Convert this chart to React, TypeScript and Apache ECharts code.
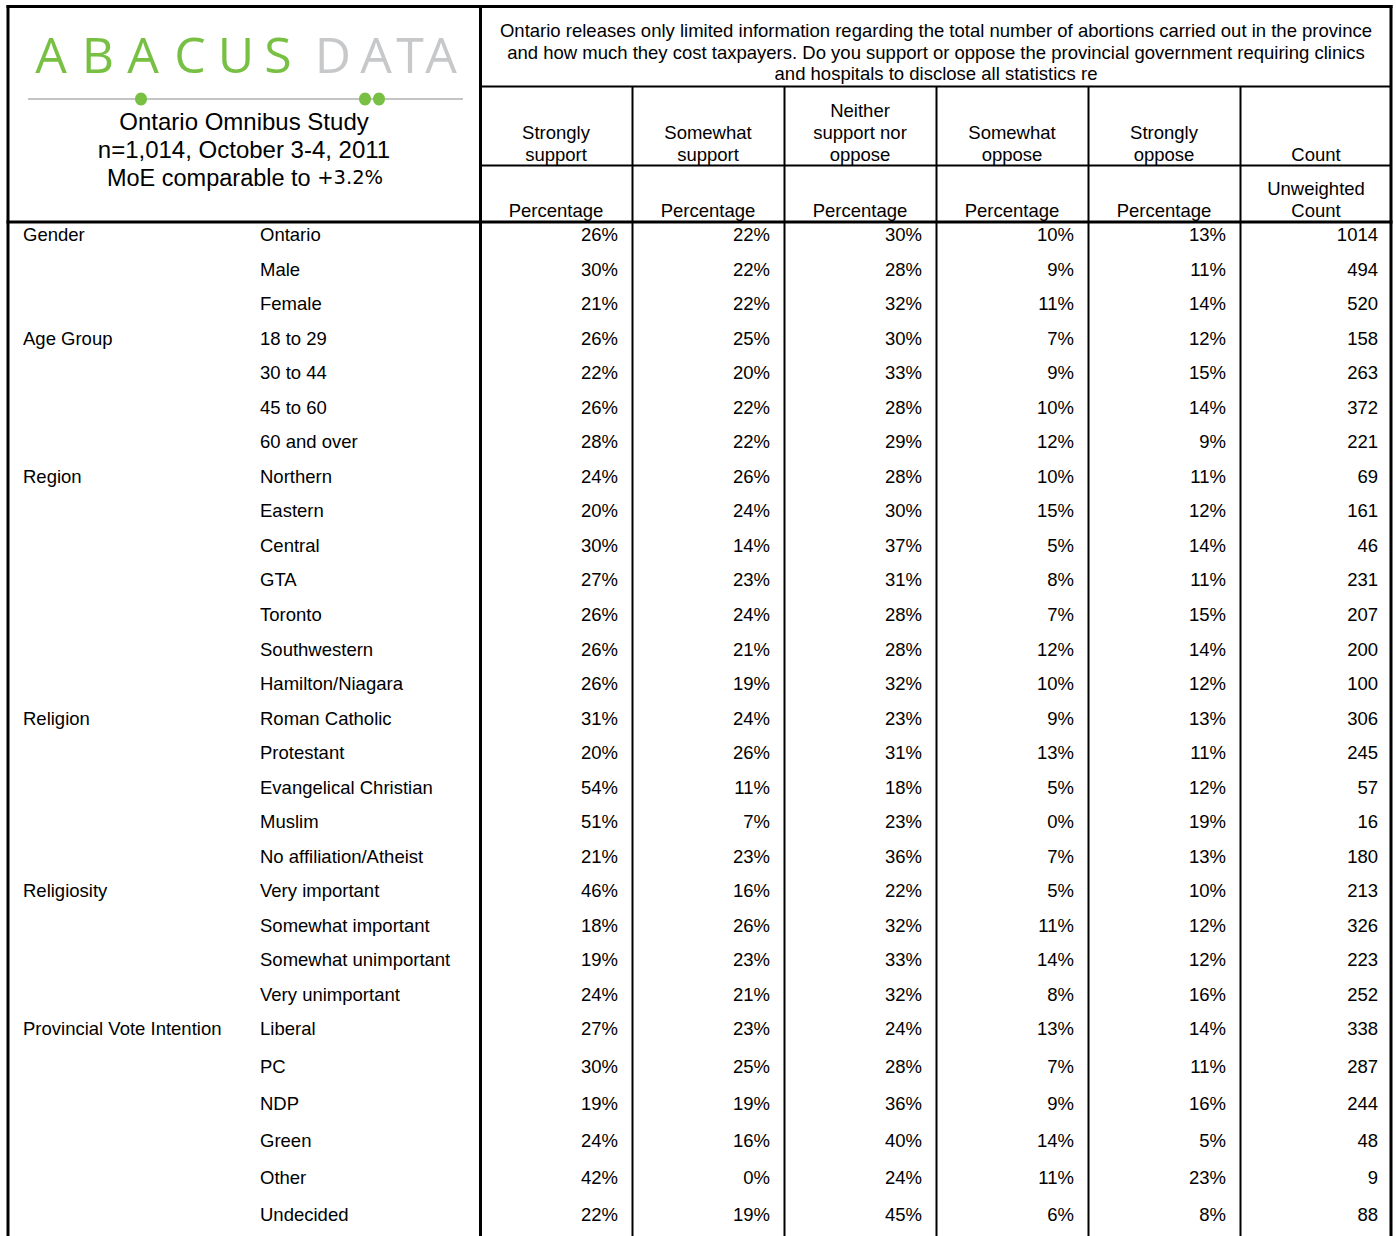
import React, { useEffect, useRef } from 'react';
import * as echarts from 'echarts';

const FONT = '"Liberation Sans", Arial, Helvetica, sans-serif';
const FS = 18.5;

const questionLines = [
  'Ontario releases only limited information regarding the total number of abortions carried out in the province',
  'and how much they cost taxpayers. Do you support or oppose the provincial government requiring clinics',
  'and hospitals to disclose all statistics re',
];
const columnHeaders = ['Strongly\nsupport', 'Somewhat\nsupport', 'Neither\nsupport nor\noppose', 'Somewhat\noppose', 'Strongly\noppose', 'Count'];
const subHeaders = ['Percentage', 'Percentage', 'Percentage', 'Percentage', 'Percentage', 'Unweighted\nCount'];
const titleLines = ['Ontario Omnibus Study', 'n=1,014, October 3-4, 2011'];

const groupNames = ['Gender', 'Age Group', 'Region', 'Religion', 'Religiosity', 'Provincial Vote Intention'];
const groupStarts = [0, 3, 7, 14, 19, 23];

const rows = [
  'Ontario', 'Male', 'Female',
  '18 to 29', '30 to 44', '45 to 60', '60 and over',
  'Northern', 'Eastern', 'Central', 'GTA', 'Toronto', 'Southwestern', 'Hamilton/Niagara',
  'Roman Catholic', 'Protestant', 'Evangelical Christian', 'Muslim', 'No affiliation/Atheist',
  'Very important', 'Somewhat important', 'Somewhat unimportant', 'Very unimportant',
  'Liberal', 'PC', 'NDP', 'Green', 'Other', 'Undecided',
];
const stronglySupport = [26, 30, 21, 26, 22, 26, 28, 24, 20, 30, 27, 26, 26, 26, 31, 20, 54, 51, 21, 46, 18, 19, 24, 27, 30, 19, 24, 42, 22];
const somewhatSupport = [22, 22, 22, 25, 20, 22, 22, 26, 24, 14, 23, 24, 21, 19, 24, 26, 11, 7, 23, 16, 26, 23, 21, 23, 25, 19, 16, 0, 19];
const neither = [30, 28, 32, 30, 33, 28, 29, 28, 30, 37, 31, 28, 28, 32, 23, 31, 18, 23, 36, 22, 32, 33, 32, 24, 28, 36, 40, 24, 45];
const somewhatOppose = [10, 9, 11, 7, 9, 10, 12, 10, 15, 5, 8, 7, 12, 10, 9, 13, 5, 0, 7, 5, 11, 14, 8, 13, 7, 9, 14, 11, 6];
const stronglyOppose = [13, 11, 14, 12, 15, 14, 9, 11, 12, 14, 11, 15, 14, 12, 13, 11, 12, 19, 13, 10, 12, 12, 16, 14, 11, 16, 5, 23, 8];
const counts = [1014, 494, 520, 158, 263, 372, 221, 69, 161, 46, 231, 207, 200, 100, 306, 245, 57, 16, 180, 213, 326, 223, 252, 338, 287, 244, 48, 9, 88];

const columns = [stronglySupport, somewhatSupport, neither, somewhatOppose, stronglyOppose, counts];
const colKeys = ['ss', 'sws', 'n', 'swo', 'so', 'cnt'];

const logoLetters = ['A', 'B', 'A', 'C', 'U', 'S', 'D', 'A', 'T', 'A'];
const logoX = [51, 98, 143, 190, 236, 278, 333, 376, 410, 441];

// layout
const TABLE_L = 480;
const COL_W = 152;
const SPLIT = 23;
const seg = [
  { start: 0, end: SPLIT, top: 217.5, band: 34.52 },
  { start: SPLIT, end: rows.length, top: 1010.2, band: 37.2 },
];

function buildOption() {
  const groupLabels = rows.map((_, i) => {
    const k = groupStarts.indexOf(i);
    return k >= 0 ? groupNames[k] : '';
  });

  const grids: any[] = [];
  const xAxes: any[] = [];
  const yAxes: any[] = [];
  const series: any[] = [];

  seg.forEach((s, gi) => {
    const n = s.end - s.start;
    grids.push({
      left: TABLE_L,
      width: COL_W * 6,
      top: s.top,
      height: s.band * n,
      containLabel: false,
      outerBoundsMode: 'none',
    });
    xAxes.push({ type: 'category', gridIndex: gi, data: colKeys, show: false });
    const labelBase = { interval: 0, align: 'left', fontSize: FS, color: '#000', fontFamily: FONT };
    yAxes.push({
      type: 'category', gridIndex: gi, inverse: true, position: 'left', offset: 0,
      data: rows.slice(s.start, s.end),
      axisLine: { show: false }, axisTick: { show: false }, splitLine: { show: false },
      axisLabel: { ...labelBase, margin: TABLE_L - 260 },
    });
    yAxes.push({
      type: 'category', gridIndex: gi, inverse: true, position: 'left', offset: 0,
      data: groupLabels.slice(s.start, s.end),
      axisLine: { show: false }, axisTick: { show: false }, splitLine: { show: false },
      axisLabel: { ...labelBase, margin: TABLE_L - 23 },
    });
    const data: number[][] = [];
    for (let r = s.start; r < s.end; r++) {
      for (let c = 0; c < columns.length; c++) {
        data.push([c, r - s.start, columns[c][r]]);
      }
    }
    series.push({
      type: 'custom',
      xAxisIndex: gi,
      yAxisIndex: gi * 2,
      data,
      renderItem: (params: any, api: any) => {
        const c = api.value(0);
        const r = api.value(1);
        const v = api.value(2);
        const p = api.coord([c, r]);
        const sz = api.size([1, 1]);
        const txt = c < 5 ? v + '%' : String(v);
        return {
          type: 'text',
          x: p[0] + sz[0] / 2 - 14,
          y: p[1],
          style: {
            text: txt,
            fill: '#000',
            font: FS + 'px ' + FONT,
            fontSize: FS,
            fontFamily: FONT,
            align: 'right',
            textAlign: 'right',
            verticalAlign: 'middle',
            textVerticalAlign: 'middle',
          },
        };
      },
    });
  });

  const graphic: any[] = [];
  const line = (x1: number, y1: number, x2: number, y2: number, w: number) =>
    graphic.push({ type: 'line', shape: { x1, y1, x2, y2 }, style: { stroke: '#000', lineWidth: w }, z: 10 });

  // borders
  line(6.5, 6.5, 1392.5, 6.5, 3);
  line(8, 5, 8, 1236, 3);
  line(1391, 5, 1391, 1236, 3);
  line(480.5, 5, 480.5, 1236, 3);
  line(480, 86.5, 1392, 86.5, 2);
  line(480, 165.5, 1392, 165.5, 2);
  line(6.5, 222, 1392.5, 222, 3);
  for (let c = 1; c < 6; c++) {
    const x = TABLE_L + COL_W * c + 0.5;
    line(x, 86.5, x, 1236, 2);
  }

  // question
  graphic.push({
    type: 'text', x: 936, y: 20, z: 10,
    style: {
      text: questionLines.join('\n'), fill: '#000', font: '18.5px ' + FONT, fontSize: 18.5, fontFamily: FONT,
      lineHeight: 21.5, align: 'center', textAlign: 'center', verticalAlign: 'top', textVerticalAlign: 'top',
    },
  });

  // column headers
  for (let c = 0; c < 6; c++) {
    const cx = TABLE_L + COL_W * (c + 0.5);
    graphic.push({
      type: 'text', x: cx, y: 165, z: 10,
      style: {
        text: columnHeaders[c], fill: '#000', font: FS + 'px ' + FONT, fontSize: FS, fontFamily: FONT,
        lineHeight: 22, align: 'center', textAlign: 'center', verticalAlign: 'bottom', textVerticalAlign: 'bottom',
      },
    });
    graphic.push({
      type: 'text', x: cx, y: 221, z: 10,
      style: {
        text: subHeaders[c], fill: '#000', font: FS + 'px ' + FONT, fontSize: FS, fontFamily: FONT,
        lineHeight: 22, align: 'center', textAlign: 'center', verticalAlign: 'bottom', textVerticalAlign: 'bottom',
      },
    });
  }

  // logo
  logoLetters.forEach((ch, i) => {
    graphic.push({
      type: 'text', x: logoX[i], y: 54, z: 10,
      style: {
        text: ch, fill: i < 6 ? '#78c043' : '#c6c8ca', font: '50px "Open Sans", sans-serif',
        fontSize: 50, fontFamily: '"Open Sans", sans-serif',
        align: 'center', textAlign: 'center', verticalAlign: 'middle', textVerticalAlign: 'middle',
      },
    });
  });
  graphic.push({ type: 'line', shape: { x1: 28, y1: 99, x2: 463, y2: 99 }, style: { stroke: '#c4c4c4', lineWidth: 2 }, z: 10 });
  [141, 365, 379].forEach((x) => {
    graphic.push({ type: 'ellipse', shape: { cx: x, cy: 99, rx: 6, ry: 6.5 }, style: { fill: '#78c043' }, z: 11 });
  });

  // title
  titleLines.forEach((t, i) => {
    graphic.push({
      type: 'text', x: 244, y: 121.5 + i * 28, z: 10,
      style: {
        text: t, fill: '#000', font: '24px ' + FONT, fontSize: 24, fontFamily: FONT,
        align: 'center', textAlign: 'center', verticalAlign: 'middle', textVerticalAlign: 'middle',
      },
    });
  });
  graphic.push({
    type: 'text', x: 245, y: 177.5, z: 10,
    style: {
      text: '{a|MoE comparable to }{b|+3.2%}', fill: '#000',
      align: 'center', textAlign: 'center', verticalAlign: 'middle', textVerticalAlign: 'middle',
      rich: {
        a: { fontSize: 23.5, fontFamily: FONT, fill: '#000', color: '#000' },
        b: { fontSize: 19.5, fontFamily: '"DejaVu Sans", sans-serif', fill: '#000', color: '#000' },
      },
    },
  });

  return {
    animation: false,
    backgroundColor: '#fff',
    grid: grids,
    xAxis: xAxes,
    yAxis: yAxes,
    series,
    graphic,
  };
}

export default function App() {
  const ref = useRef<HTMLDivElement>(null);
  useEffect(() => {
    const chart = echarts.init(ref.current!, null, { renderer: 'svg' });
    chart.setOption(buildOption() as any);
    return () => chart.dispose();
  }, []);
  return <div ref={ref} style={{ position: 'absolute', left: 0, top: 0, width: 1396, height: 1236 }} />;
}
